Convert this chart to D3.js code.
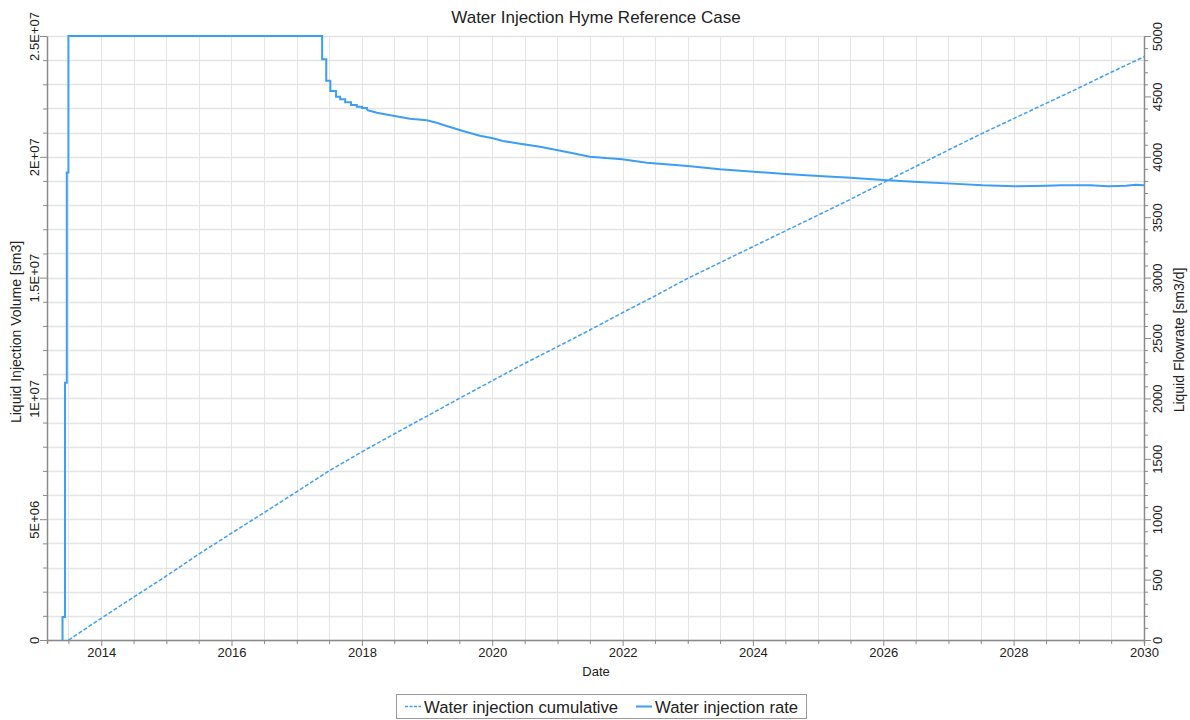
<!DOCTYPE html>
<html>
<head>
<meta charset="utf-8">
<script src="https://cdn.jsdelivr.net/npm/d3@7"></script>
<style>
  body { margin: 0; background: #fff; }
  svg { display: block; font-family: "Liberation Sans", Arial, sans-serif; }
</style>
</head>
<body>
<svg id="chart" width="1190" height="720"></svg>
<script>
// ---- Data ----
const title = "Water Injection Hyme Reference Case";
const seriesNames = ["Water injection cumulative", "Water injection rate"];

// Water injection rate [sm3/d]
const rateDates = [
  "2013-05-28","2013-05-29","2013-06-12","2013-06-22","2013-07-01",
  "2017-05-23","2017-06-15","2017-07-08","2017-08-09","2017-09-01","2017-09-29",
  "2017-11-01","2017-12-03","2018-01-01","2018-01-29","2018-03-26","2018-06-25",
  "2018-09-27","2018-12-30","2019-02-24","2019-04-21","2019-07-21","2019-10-24",
  "2020-01-05","2020-03-01","2020-06-05","2020-09-25","2020-12-27","2021-03-29",
  "2021-07-01","2021-12-29","2022-05-17","2023-01-01","2023-06-30","2024-01-06",
  "2024-07-04","2025-01-03","2025-07-01","2026-01-02","2026-07-16","2026-12-23",
  "2027-07-12","2028-01-08","2028-07-06","2028-09-23","2029-03-04","2029-06-13",
  "2029-09-21","2029-11-16","2030-01-01"
];
const rateValues = [
  0, 190, 2130, 3870, 5000,
  4807, 4630, 4545, 4497, 4476, 4451,
  4429, 4415, 4404, 4387, 4365, 4340,
  4315, 4302, 4282, 4255, 4213, 4175,
  4153, 4131, 4108, 4084, 4056, 4029,
  4001, 3979, 3951, 3924, 3896, 3877,
  3858, 3841, 3827, 3808, 3791, 3780,
  3764, 3756, 3761, 3764, 3764, 3756,
  3761, 3769, 3764
];
// rate is drawn as a staircase up to this date, then as a line
const rateStepUntil = "2018-01-29";

// Water injection cumulative [sm3]
const cumDates = [
  "2013-07-02","2014-01-01","2014-07-01","2015-01-01","2015-07-01","2016-01-01",
  "2016-07-01","2017-01-01","2017-07-01","2018-01-01","2018-07-01","2019-01-01",
  "2019-07-01","2020-01-01","2020-07-01","2021-01-01","2021-07-01","2022-01-01",
  "2022-07-01","2023-01-01","2023-07-01","2024-01-01","2024-07-01","2025-01-01",
  "2025-07-01","2026-01-01","2026-07-01","2027-01-01","2027-07-01","2028-01-01",
  "2028-07-01","2029-01-01","2029-07-01","2030-01-01"
];
const cumValues = [
  0, 0.90e6, 1.77e6, 2.65e6, 3.55e6, 4.42e6,
  5.27e6, 6.14e6, 7.00e6, 7.79e6, 8.53e6, 9.27e6,
  10.00e6, 10.73e6, 11.45e6, 12.14e6, 12.83e6, 13.55e6,
  14.24e6, 14.97e6, 15.62e6, 16.28e6, 16.93e6, 17.59e6,
  18.24e6, 18.93e6, 19.60e6, 20.28e6, 20.94e6, 21.58e6,
  22.21e6, 22.85e6, 23.50e6, 24.14e6
];

const leftTickValues = [0, 5e6, 1e7, 1.5e7, 2e7, 2.5e7];
const leftTickLabels = ["0", "5E+06", "1E+07", "1.5E+07", "2E+07", "2.5E+07"];
const rightTickValues = [0, 500, 1000, 1500, 2000, 2500, 3000, 3500, 4000, 4500, 5000];
const xLabelYears = [2014, 2016, 2018, 2020, 2022, 2024, 2026, 2028, 2030];

// ---- Layout ----
const M = { left: 47, right: 1144, top: 36, bottom: 640 };
const color = "#3d9ef5";
const axisColor = "#8a8a8a";
const gridColor = "#e4e4e4";
const textColor = "#222";

const parse = d3.timeParse("%Y-%m-%d");
const svg = d3.select("#chart");

const x = d3.scaleTime()
  .domain([parse("2013-03-03"), parse("2030-01-01")])
  .range([M.left, M.right]);
const yL = d3.scaleLinear().domain([0, 2.5e7]).range([M.bottom, M.top]);
const yR = d3.scaleLinear().domain([0, 5000]).range([M.bottom, M.top]);

const halfYears = d3.timeMonth.every(6).range(parse("2013-07-01"), parse("2030-01-02"))
  .filter(d => d.getMonth() === 0 || d.getMonth() === 6);

// Grid
const grid = svg.append("g");
grid.selectAll("line.v").data(halfYears).join("line")
  .attr("x1", d => Math.round(x(d)) + 0.5).attr("x2", d => Math.round(x(d)) + 0.5)
  .attr("y1", M.top).attr("y2", M.bottom)
  .attr("stroke", gridColor).attr("stroke-width", 1);
grid.selectAll("line.h").data(d3.range(0, 2.5e7 + 1, 1e6)).join("line")
  .attr("x1", M.left).attr("x2", M.right)
  .attr("y1", d => Math.round(yL(d)) + 0.5).attr("y2", d => Math.round(yL(d)) + 0.5)
  .attr("stroke", gridColor).attr("stroke-width", 1.5);

function styleAxis(g) {
  g.select(".domain").attr("stroke", axisColor).attr("stroke-width", 1.5);
  g.selectAll(".tick line").attr("stroke", axisColor);
  g.selectAll(".tick text").attr("fill", textColor).attr("font-size", 13);
}

// Bottom axis
const xAxis = d3.axisBottom(x).tickValues(halfYears).tickSizeOuter(0).tickSize(4)
  .tickFormat(d => (d.getMonth() === 0 && xLabelYears.includes(d.getFullYear())) ? d.getFullYear() : "");
const gx = svg.append("g").attr("transform", `translate(0,${M.bottom})`).call(xAxis);
styleAxis(gx);
gx.selectAll(".tick text").attr("dy", "0.9em").attr("y", 5);
gx.selectAll(".tick").filter(d => d.getMonth() === 0 && xLabelYears.includes(d.getFullYear()))
  .select("line").attr("y2", 6);

// Left axis
const yLAxis = d3.axisLeft(yL).tickValues(d3.range(0, 2.5e7 + 1, 1e6)).tickSize(4).tickSizeOuter(0)
  .tickFormat(d => {
    const i = leftTickValues.findIndex(v => Math.abs(v - d) < 1);
    return i >= 0 ? leftTickLabels[i] : "";
  });
const gyL = svg.append("g").attr("transform", `translate(${M.left},0)`).call(yLAxis);
styleAxis(gyL);
gyL.selectAll(".tick").filter(d => leftTickValues.some(v => Math.abs(v - d) < 1))
  .select("line").attr("x2", -7);
gyL.selectAll(".tick text")
  .attr("transform", "rotate(-90)")
  .attr("x", 0).attr("y", -8).attr("dy", 0)
  .attr("text-anchor", "middle");

// Right axis
const yRAxis = d3.axisRight(yR).tickValues(d3.range(0, 5001, 100)).tickSize(4).tickSizeOuter(0)
  .tickFormat(d => rightTickValues.includes(d) ? d : "");
const gyR = svg.append("g").attr("transform", `translate(${M.right},0)`).call(yRAxis);
styleAxis(gyR);
gyR.selectAll(".tick").filter(d => rightTickValues.includes(d)).select("line").attr("x2", 7);
gyR.selectAll(".tick text")
  .attr("transform", "rotate(-90)")
  .attr("x", 0).attr("y", 18).attr("dy", 0)
  .attr("text-anchor", "middle");

// Series
const rateData = rateDates.map((d, i) => ({ date: parse(d), v: rateValues[i] }));
const cumData = cumDates.map((d, i) => ({ date: parse(d), v: cumValues[i] }));
const stepEnd = parse(rateStepUntil);
const rateStep = rateData.filter(d => d.date <= stepEnd);
const rateSmooth = rateData.filter(d => d.date >= stepEnd);

svg.append("path").datum(cumData)
  .attr("fill", "none").attr("stroke", color).attr("stroke-width", 1.5)
  .attr("stroke-dasharray", "4,2")
  .attr("d", d3.line().x(d => x(d.date)).y(d => yL(d.v)));

const rateG = svg.append("g").attr("fill", "none").attr("stroke", color)
  .attr("stroke-width", 2).attr("stroke-linejoin", "miter");
rateG.append("path").datum(rateStep)
  .attr("d", d3.line().curve(d3.curveStepAfter).x(d => x(d.date)).y(d => yR(d.v)));
rateG.append("path").datum(rateSmooth)
  .attr("d", d3.line().x(d => x(d.date)).y(d => yR(d.v)));

// Titles
svg.append("text").attr("x", 596).attr("y", 23).attr("text-anchor", "middle")
  .attr("font-size", 17).attr("fill", textColor).text(title);
svg.append("text").attr("x", 596).attr("y", 676).attr("text-anchor", "middle")
  .attr("font-size", 13).attr("fill", textColor).text("Date");
svg.append("text").attr("transform", `translate(21,332) rotate(-90)`)
  .attr("text-anchor", "middle").attr("font-size", 14).attr("fill", textColor)
  .text("Liquid Injection Volume [sm3]");
svg.append("text").attr("transform", `translate(1184,340) rotate(-90)`)
  .attr("text-anchor", "middle").attr("font-size", 14).attr("fill", textColor)
  .text("Liquid Flowrate [sm3/d]");

// Legend
const lg = svg.append("g");
lg.append("rect").attr("x", 396.5).attr("y", 694.5).attr("width", 410).attr("height", 24)
  .attr("fill", "#fff").attr("stroke", "#9a9a9a");
lg.append("line").attr("x1", 405).attr("x2", 421).attr("y1", 706.5).attr("y2", 706.5)
  .attr("stroke", color).attr("stroke-width", 1.5).attr("stroke-dasharray", "3,1.5");
lg.append("text").attr("x", 424).attr("y", 712.5).attr("font-size", 16.7).attr("fill", textColor)
  .text(seriesNames[0]);
lg.append("line").attr("x1", 636).attr("x2", 652).attr("y1", 706.5).attr("y2", 706.5)
  .attr("stroke", color).attr("stroke-width", 2);
lg.append("text").attr("x", 655).attr("y", 712.5).attr("font-size", 16.7).attr("fill", textColor)
  .text(seriesNames[1]);
</script>
</body>
</html>
